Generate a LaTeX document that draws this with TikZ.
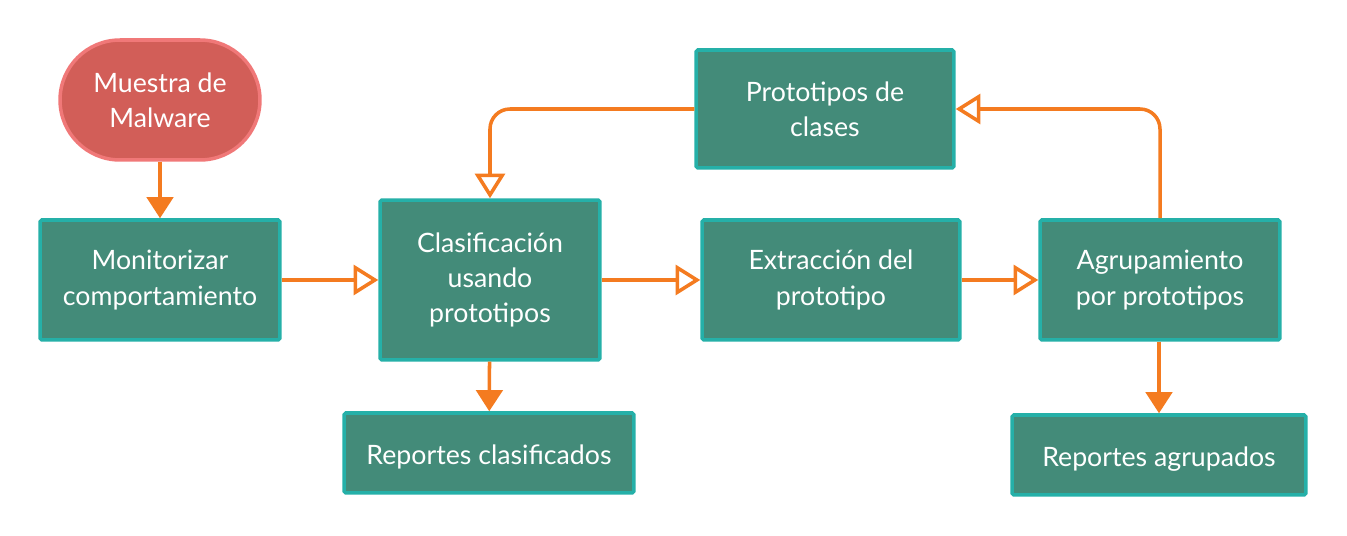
\documentclass[tikz,border=0pt]{standalone}
\usepackage{fontspec}
\setmainfont{Lato}
\usetikzlibrary{arrows.meta}

\definecolor{boxfill}{HTML}{438B79}
\definecolor{boxline}{HTML}{25B0A8}
\definecolor{startfill}{HTML}{D25E58}
\definecolor{startline}{HTML}{F07878}
\definecolor{flow}{HTML}{F47B20}

\tikzset{
  stepbox/.style={draw=boxline, fill=boxfill, line width=2pt, text=white,
    align=center, inner sep=0pt, rounded corners=1pt,
    font=\fontsize{15.2}{20}\selectfont,
    execute at begin node={\rule{0pt}{#1}}},
  stepbox/.default=15.6pt,
  startbox/.style={draw=startline, fill=startfill, line width=2pt, text=white,
    align=center, inner sep=0pt, rounded corners=1.2cm,
    minimum width=4cm, minimum height=2.4cm,
    font=\fontsize{15.2}{20}\selectfont,
    execute at begin node={\rule{0pt}{18pt}}},
  openflow/.style={draw=flow, line width=2pt,
    -{Triangle[open, length=14pt, width=17pt, line width=2pt]}},
  fullflow/.style={draw=flow, line width=2pt,
    -{Triangle[length=12pt, width=15pt]}}
}

\begin{document}
\begin{tikzpicture}[x=0.02cm, y=-0.02cm]
  \useasboundingbox (0,0) rectangle (1347,536);
  \fill[white] (0,0) rectangle (1347,536);

  % nodes
  \node[startbox] (sample) at (160,100) {Muestra de\\Malware};
  \node[stepbox=18pt, minimum width=4.8cm, minimum height=2.4cm] (monitor) at (160,280) {Monitorizar\\comportamiento};
  \node[stepbox=18pt, minimum width=4.4cm, minimum height=3.2cm] (classify) at (490,280) {Clasificación\\usando\\prototipos};
  \node[stepbox=18pt, minimum width=5.16cm, minimum height=2.4cm] (extract) at (831,280) {Extracción del\\prototipo};
  \node[stepbox=18pt, minimum width=4.8cm, minimum height=2.4cm] (cluster) at (1160,280) {Agrupamiento\\por prototipos};
  \node[stepbox=18pt, minimum width=5.16cm, minimum height=2.36cm] (protos) at (825,109) {Prototipos de\\clases};
  \node[stepbox, minimum width=5.8cm, minimum height=1.6cm] (repclass) at (489,453) {Reportes clasificados};
  \node[stepbox, minimum width=5.88cm, minimum height=1.6cm] (repclust) at (1159,455) {Reportes agrupados};

  % connectors
  \draw[fullflow] (sample) -- (monitor);
  \draw[openflow] (monitor) -- (classify);
  \draw[openflow] (classify) -- (extract);
  \draw[openflow] (extract) -- (cluster);
  \draw[openflow, rounded corners=0.4cm] (cluster.north) |- (protos.east);
  \draw[openflow, rounded corners=0.4cm] (protos.west) -| (classify.north);
  \draw[fullflow] (classify) -- (repclass);
  \draw[fullflow] (cluster.south -| repclust.north) -- (repclust);
\end{tikzpicture}
\end{document}
